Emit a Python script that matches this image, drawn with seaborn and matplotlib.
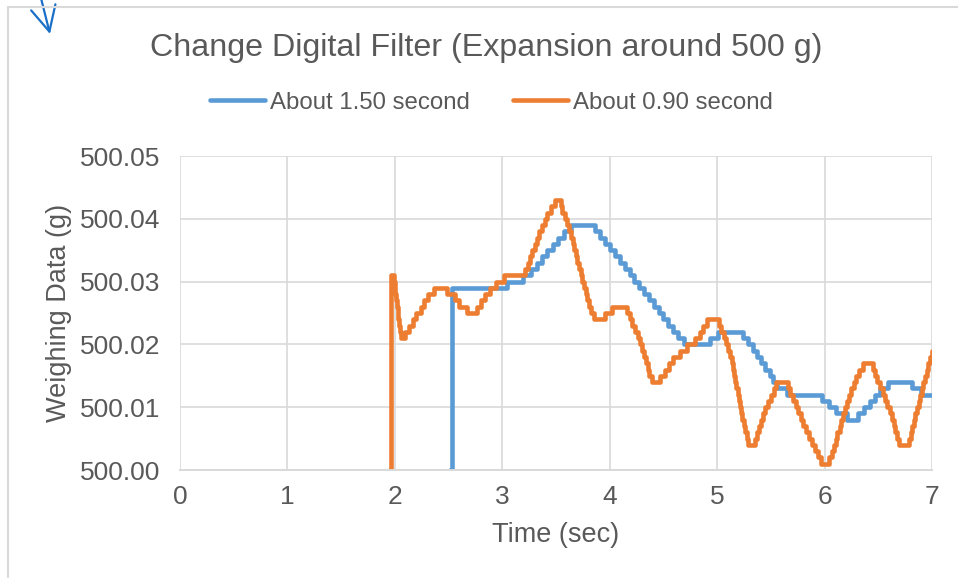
import matplotlib
matplotlib.use("Agg")
import matplotlib.pyplot as plt
from matplotlib.patches import Rectangle
import seaborn as sns
import pandas as pd

# weighing data, stored as mg above 500 g, at the time each step begins (sec)
orange_t = [1.955, 1.965,
            1.99, 1.997, 2.004, 2.011, 2.018, 2.025, 2.032, 2.039, 2.046, 2.055,
            2.09, 2.13, 2.17, 2.20, 2.24, 2.27, 2.31, 2.36,
            2.485, 2.56, 2.60, 2.675,
            2.76, 2.80, 2.84, 2.885, 2.94, 3.02,
            3.21, 3.235, 3.26, 3.28, 3.30, 3.32, 3.345, 3.37, 3.395, 3.42, 3.45, 3.49,
            3.545, 3.56, 3.585, 3.60, 3.62, 3.64, 3.655, 3.67, 3.685, 3.70,
            3.715, 3.73, 3.745, 3.76, 3.775, 3.79, 3.81, 3.83, 3.855,
            3.955, 4.02,
            4.165, 4.19, 4.21, 4.235, 4.26, 4.28, 4.30, 4.32, 4.34, 4.355, 4.37, 4.39,
            4.47, 4.51, 4.55, 4.59, 4.65, 4.72, 4.79, 4.84, 4.87, 4.905,
            5.02, 5.04, 5.06, 5.08, 5.10, 5.12, 5.135, 5.145, 5.16, 5.17,
            5.18, 5.19, 5.20, 5.21, 5.22, 5.235, 5.25, 5.26, 5.275, 5.29,
            5.355, 5.37, 5.39, 5.41, 5.43, 5.45, 5.47, 5.50, 5.53, 5.55,
            5.655, 5.68, 5.705, 5.73, 5.755, 5.78, 5.80, 5.83, 5.855, 5.88, 5.91, 5.94, 5.97,
            6.04, 6.07, 6.09, 6.105, 6.12, 6.14, 6.155, 6.17, 6.19, 6.21, 6.23, 6.25,
            6.27, 6.29, 6.32, 6.355,
            6.45, 6.47, 6.49, 6.515, 6.54, 6.56, 6.585, 6.61, 6.63, 6.645, 6.66, 6.675, 6.69,
            6.79, 6.80, 6.815, 6.83, 6.845, 6.86, 6.875, 6.89, 6.905, 6.92, 6.935, 6.95,
            6.965, 6.98, 7.0]
orange_mg = [0, 31,
             30, 29, 28, 27, 26, 25, 24, 23, 22, 21,
             22, 23, 24, 25, 26, 27, 28, 29,
             28, 27, 26, 25,
             26, 27, 28, 29, 30, 31,
             32, 33, 34, 35, 36, 37, 38, 39, 40, 41, 42, 43,
             42, 41, 40, 39, 38, 37, 36, 35, 34, 33,
             32, 31, 30, 29, 28, 27, 26, 25, 24,
             25, 26,
             25, 24, 23, 22, 21, 20, 19, 18, 17, 16, 15, 14,
             15, 16, 17, 18, 19, 20, 21, 22, 23, 24,
             23, 22, 21, 20, 19, 18, 17, 16, 15, 14,
             13, 12, 11, 10, 9, 8, 7, 6, 5, 4,
             5, 6, 7, 8, 9, 10, 11, 12, 13, 14,
             13, 12, 11, 10, 9, 8, 7, 6, 5, 4, 3, 2, 1,
             2, 3, 4, 5, 6, 7, 8, 9, 10, 11, 12, 13,
             14, 15, 16, 17,
             16, 15, 14, 13, 12, 11, 10, 9, 8, 7, 6, 5, 4,
             5, 6, 7, 8, 9, 10, 11, 12, 13, 14, 15, 16,
             17, 18, 19]

blue_t = [2.515, 2.53,
          3.04, 3.19,
          3.27, 3.32, 3.37, 3.42, 3.47, 3.52, 3.57, 3.64,
          3.86, 3.91, 3.955, 4.00, 4.05, 4.095, 4.14, 4.185, 4.23, 4.275,
          4.32, 4.365, 4.41, 4.455, 4.50, 4.545, 4.59, 4.64, 4.69,
          4.93, 5.01,
          5.245, 5.29, 5.33, 5.37, 5.41, 5.45, 5.49, 5.52, 5.56, 5.65,
          5.975, 6.04, 6.11, 6.21,
          6.31, 6.37, 6.42, 6.47, 6.52, 6.59,
          6.81, 6.90, 7.0]
blue_mg = [0, 29,
           30, 31,
           32, 33, 34, 35, 36, 37, 38, 39,
           38, 37, 36, 35, 34, 33, 32, 31, 30, 29,
           28, 27, 26, 25, 24, 23, 22, 21, 20,
           21, 22,
           21, 20, 19, 18, 17, 16, 15, 14, 13, 12,
           11, 10, 9, 8,
           9, 10, 11, 12, 13, 14,
           13, 12, 12]

series_names = ["About 1.50 second", "About 0.90 second"]
x_ticks = [0, 1, 2, 3, 4, 5, 6, 7]
y_ticks = [500.00, 500.01, 500.02, 500.03, 500.04, 500.05]

BLUE = "#5b9bd5"
ORANGE = "#ed7d31"
GREY = "#595959"
GRID = "#d9d9d9"

df = pd.concat([
    pd.DataFrame({"time": blue_t, "weight": [500 + v / 1000 for v in blue_mg], "series": series_names[0]}),
    pd.DataFrame({"time": orange_t, "weight": [500 + v / 1000 for v in orange_mg], "series": series_names[1]}),
], ignore_index=True)

sns.set_theme(style="white")
plt.rcParams["font.family"] = ["Liberation Sans", "DejaVu Sans"]

fig = plt.figure(figsize=(9.58, 5.78), dpi=100)
ax = fig.add_axes([180 / 958, 1 - 470 / 578, 752 / 958, 314 / 578])

sns.lineplot(data=df, x="time", y="weight", hue="series", hue_order=series_names,
             palette={series_names[0]: BLUE, series_names[1]: ORANGE},
             estimator=None, sort=False, drawstyle="steps-post", linewidth=3.3, ax=ax)

ax.set_xlim(0, 7)
ax.set_ylim(500.00, 500.05)
ax.set_xticks(x_ticks)
ax.set_xticklabels([str(v) for v in x_ticks])
ax.set_yticks(y_ticks)
ax.set_yticklabels(["%.2f" % v for v in y_ticks])
ax.grid(True, color=GRID, linewidth=1.2)
ax.set_axisbelow(True)
for side in ["top", "right", "left"]:
    ax.spines[side].set_visible(False)
ax.spines["bottom"].set_color(GRID)
ax.spines["bottom"].set_linewidth(1.4)
ax.tick_params(axis="both", length=0, labelsize=19, labelcolor=GREY)
ax.tick_params(axis="x", pad=11)
ax.tick_params(axis="y", pad=14)

ax.set_xlabel("Time (sec)", fontsize=19.5, color=GREY)
ax.set_ylabel("Weighing Data (g)", fontsize=19.5, color=GREY)
ax.xaxis.set_label_coords(0.5, -0.165)
ax.yaxis.set_label_coords(-0.143, 0.5)

fig.text(0.508, 0.917, "Change Digital Filter (Expansion around 500 g)",
         ha="center", va="center", fontsize=23.2, color=GREY)

sns.move_legend(ax, "center", bbox_to_anchor=(0.513, 0.822), bbox_transform=fig.transFigure,
                ncol=2, frameon=False, title=None, fontsize=17.3, handlelength=2.3,
                handletextpad=0.2, columnspacing=1.8)
for t in ax.get_legend().get_texts():
    t.set_color(GREY)

# chart area border and the hand drawn arrow in the corner
fig.patches.append(Rectangle((8 / 958, -0.1), 1.2, 1.1 - 7 / 578, transform=fig.transFigure,
                             fill=False, edgecolor=GRID, linewidth=1.5))
fig.patches[-1].set_figure(fig)
ax.annotate("", xy=(50 / 958, 1 - 34 / 578), xytext=(40 / 958, 1.01),
            xycoords="figure fraction", textcoords="figure fraction",
            arrowprops=dict(arrowstyle="->,head_length=0.9,head_width=0.45",
                            color="#1a6fc9", lw=1.6, mutation_scale=20,
                            shrinkA=0, shrinkB=0))

fig.savefig("out.png", dpi=100)
plt.close(fig)
